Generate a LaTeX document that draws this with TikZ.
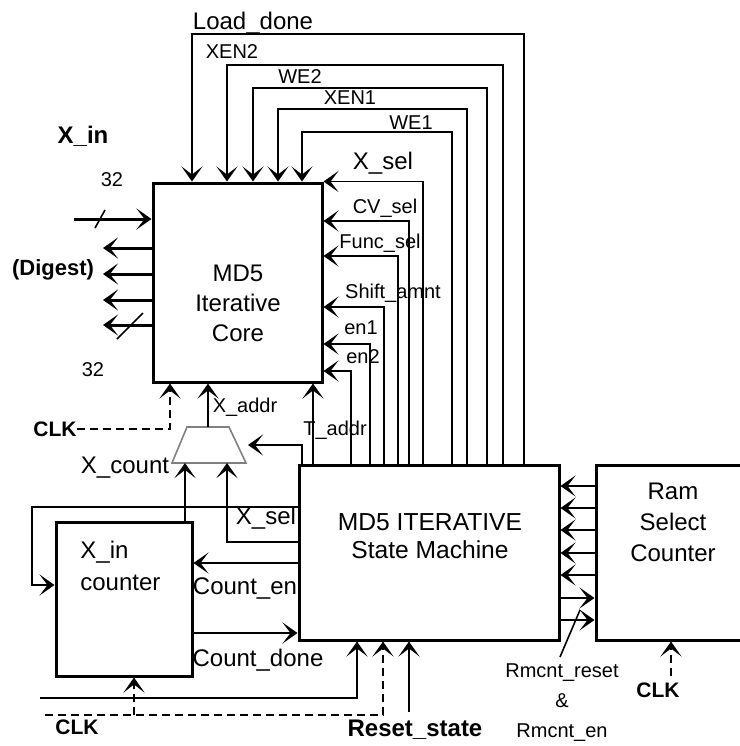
\documentclass[tikz,border=0pt]{standalone}
\usepackage{fontspec}
\setmainfont{Liberation Sans}
\usetikzlibrary{arrows.meta}

\tikzset{
  blk/.style={draw,line width=1.5pt,inner sep=0pt},
  sig/.style={line width=0.8pt},
  arr/.style={sig,-{Stealth[length=7.5pt,width=10.5pt,inset=4pt]}},
  bus/.style={line width=1.5pt,-{Stealth[length=7.5pt,width=10.5pt,inset=4pt]}},
  clk/.style={arr,dash pattern=on 4pt off 2.5pt},
  mux/.style={draw=gray,line width=0.8pt},
  txt/.style={font=\fontsize{12}{15}\selectfont,align=center,inner sep=0pt},
  lbl/.style={font=\fontsize{12}{14}\selectfont,inner sep=0pt},
  lbls/.style={font=\fontsize{10}{12}\selectfont,inner sep=0pt},
  lblb/.style={font=\fontsize{11}{13}\selectfont\bfseries,inner sep=0pt}
}

\begin{document}
\begin{tikzpicture}[x=0.5pt,y=-0.5pt]
  \clip (0,0) rectangle (740,746);
  % blocks
  \node[blk,minimum width=84.5pt,minimum height=99.5pt] (core) at (237.5,282.5) {};
  \node[blk,minimum width=130pt,minimum height=87.5pt] (sm) at (429,552.5) {};
  \node[blk,minimum width=77pt,minimum height=87.5pt] (ram) at (673,552.5) {};
  \node[blk,minimum width=68pt,minimum height=77pt] (cnt) at (124,599) {};
  % mux
  \coordinate (muxn) at (208,427);
  \coordinate (muxs) at (208,463);
  \coordinate (muxe) at (248,445);
  \draw[mux] (187,427) -- (229,427) -- (246,463) -- (172,463) -- cycle;

  \node[txt] (coretxt) at (238,303) {MD5\\Iterative\\Core};
  \node[txt,font=\fontsize{12.3}{14}\selectfont] (smtxt) at (430,536) {MD5 ITERATIVE\\State Machine};
  \node[txt,font=\fontsize{12}{15.5}\selectfont] (ramtxt) at (673,522) {Ram\\Select\\Counter};
  \node[txt,align=left,anchor=west,font=\fontsize{12}{16}\selectfont] (cnttxt) at (80,566) {X\_in\\counter};

  % control lines over the top of the core
  \foreach \xs/\ys/\xe in {524/34/192, 503/65/227, 487/88/253, 467/109/278, 452/132/302}
    \draw[arr] (\xs,0 |- sm.north) -- (\xs,\ys) -| (\xe,0 |- core.north);
  \draw[arr] (423,0 |- sm.north) |- (core.north east);
  % control lines into the right side of the core
  \foreach \xs/\ys in {409/221, 398/256, 384/307, 370/344, 351/371}
    \draw[arr] (\xs,0 |- sm.north) |- (core.east |- 0,\ys);
  \draw[arr] (313,0 |- sm.north) -- (313,0 |- core.south);

  \node[lbl] (ld) at (253,23) {Load\_done};
  \node[lbls] (xen2) at (232,52) {XEN2};
  \node[lbls] (we2) at (300,77) {WE2};
  \node[lbls] (xen1) at (350,98) {XEN1};
  \node[lbls] (we1) at (411,123) {WE1};
  \node[lbl] (xsel) at (383,163) {X\_sel};
  \node[lbls] (cvsel) at (385,208) {CV\_sel};
  \node[lbls] (fsel) at (380,243) {Func\_sel};
  \node[lbls] (shamt) at (393,293) {Shift\_amnt};
  \node[lbls] (en1) at (361,328) {en1};
  \node[lbls] (en2) at (363,357) {en2};
  \node[lbls] (taddr) at (335,430) {T\_addr};

  % data in / digest out
  \coordinate (xin) at (74,219);
  \coordinate (dg) at (103,0);
  \draw[bus] (xin) -- (core.west |- xin);
  \draw[sig] (95,228) -- (105,210);
  \foreach \y in {248,274,300,325}
    \draw[bus] (core.west |- 0,\y) -- (dg |- 0,\y);
  \draw[sig] (117,339) -- (143,313);
  \node[lblb,font=\fontsize{12}{14}\selectfont\bfseries] (xinl) at (83,136) {X\_in};
  \node[lbls] (w1) at (112,180) {32};
  \node[lblb] (dig) at (53,270) {(Digest)};
  \node[lbls] (w2) at (93,370) {32};

  % mux and counter
  \node[lblb,font=\fontsize{10.5}{12}\selectfont\bfseries] (clka) at (55,429) {CLK};
  \draw[clk] (clka.east) -| (170,0 |- core.south);
  \draw[arr] (muxn) -- (muxn |- core.south);
  \draw[arr] (302,0 |- sm.north) |- (muxe);
  \draw[arr] (185,0 |- cnt.north) -- (185,0 |- muxs);
  \draw[arr] (sm.west |- 0,542) -| (227,0 |- muxs);
  \draw[arr] (sm.west |- 0,507) -| (32,585) -- (cnt.west |- 0,585);
  \draw[arr] (sm.west |- 0,563) -- (cnt.east |- 0,563);
  \draw[arr] (cnt.east |- 0,633) -- (sm.west |- 0,633);
  \node[lbls] (xaddr) at (245,407) {X\_addr};
  \node[lbl] (xcnt) at (125,468) {X\_count};
  \node[lbl] (xsel2) at (266,518) {X\_sel};
  \node[lbl] (cen) at (245,588) {Count\_en};
  \node[lbl] (cdone) at (258,660) {Count\_done};

  % bottom inputs
  \coordinate (rst) at (40,698);
  \coordinate (clkb) at (45,715);
  \draw[arr] (rst) -| (357,0 |- sm.south);
  \draw[clk] (clkb) -| (383,0 |- sm.south);
  \draw[clk] (134,715) -- (134,0 |- cnt.south);
  \node[lblb,font=\fontsize{10.5}{12}\selectfont\bfseries] (clkbl) at (77,727) {CLK};
  \node[lblb,font=\fontsize{12}{14}\selectfont\bfseries] (rs) at (415,730) {Reset\_state};
  \draw[arr] ([yshift=4pt]409,0 |- rs.north) -- (409,0 |- sm.south);

  % ram select counter
  \foreach \y in {486,508,530,553,575}
    \draw[arr] (ram.west |- 0,\y) -- (sm.east |- 0,\y);
  \foreach \y in {598,620}
    \draw[arr] (sm.east |- 0,\y) -- (ram.west |- 0,\y);
  \draw[sig] (560,657) -- (580,610);
  \node[lbls,align=center,font=\fontsize{10}{15}\selectfont] (rmc) at (562,703) {Rmcnt\_reset\\\&\\Rmcnt\_en};
  \node[lblb,font=\fontsize{10.5}{12}\selectfont\bfseries] (clkc) at (658,690) {CLK};
  \draw[clk] ([yshift=3pt]671,0 |- clkc.north) -- (671,0 |- ram.south);
\end{tikzpicture}
\end{document}
